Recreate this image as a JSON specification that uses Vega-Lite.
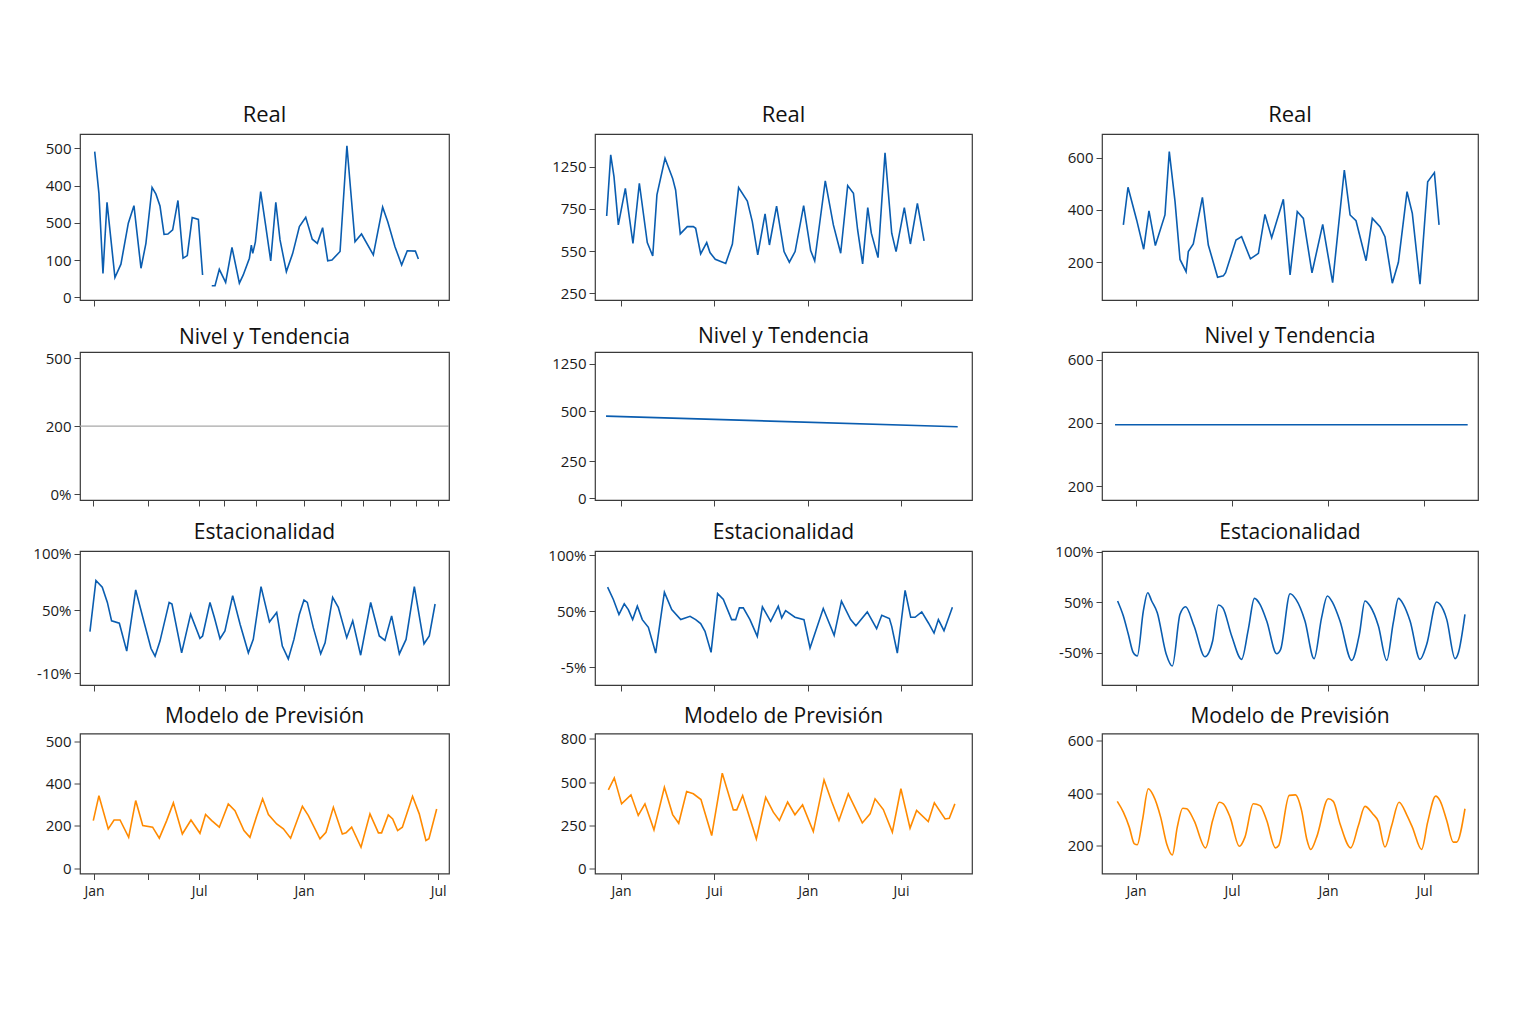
{
 "$schema": "https://vega.github.io/schema/vega-lite/v6.json",
 "background": "white",
 "padding": {"left": 29, "top": 103, "right": 20, "bottom": 20},
 "config": {
  "font": "Open Sans",
  "view": {"stroke": "#3a3a3a", "strokeWidth": 1.2},
  "axis": {"grid": false, "domain": false, "ticks": true, "tickColor": "#444", "tickSize": 6, "labelFont": "Open Sans", "labelFontSize": 15, "labelColor": "#1a1a1a", "labelPadding": 3, "labelOverlap": false, "labelFlush": false, "labelBound": false},
  "axisX": {"labelPadding": 5, "labelFontSize": 14},
  "title": {"font": "Open Sans", "fontSize": 21, "fontWeight": "normal", "color": "#111", "anchor": "middle", "frame": "group", "offset": 6}
 },
 "datasets": {
  "r1c1": [
   {"m":0.04,"v":391,"s":"a"},{"m":0.28,"v":279,"s":"a"},{"m":0.51,"v":64,"s":"a"},{"m":0.74,"v":255,"s":"a"},{"m":1.19,"v":53,"s":"a"},{"m":1.53,"v":89,"s":"a"},{"m":1.95,"v":199,"s":"a"},{"m":2.27,"v":246,"s":"a"},{"m":2.67,"v":78,"s":"a"},{"m":2.95,"v":145,"s":"a"},{"m":3.30,"v":295,"s":"a"},{"m":3.52,"v":277,"s":"a"},{"m":3.75,"v":245,"s":"a"},{"m":3.98,"v":169,"s":"a"},{"m":4.2,"v":170,"s":"a"},{"m":4.47,"v":181,"s":"a"},{"m":4.77,"v":260,"s":"a"},{"m":5.06,"v":105,"s":"a"},{"m":5.3,"v":112,"s":"a"},{"m":5.58,"v":214,"s":"a"},{"m":5.93,"v":209,"s":"a"},{"m":6.17,"v":60,"s":"a"},
   {"m":6.69,"v":31,"s":"b"},{"m":6.875,"v":31,"s":"b"},{"m":7.12,"v":75,"s":"b"},{"m":7.48,"v":40,"s":"b"},{"m":7.84,"v":134,"s":"b"},{"m":8.26,"v":38,"s":"b"},{"m":8.48,"v":60,"s":"b"},{"m":8.83,"v":105,"s":"b"},{"m":8.94,"v":140,"s":"b"},{"m":9.02,"v":118,"s":"b"},{"m":9.17,"v":149,"s":"b"},{"m":9.47,"v":284,"s":"b"},{"m":9.75,"v":194,"s":"b"},{"m":10.04,"v":98,"s":"b"},{"m":10.33,"v":255,"s":"b"},{"m":10.57,"v":154,"s":"b"},{"m":10.93,"v":69,"s":"b"},{"m":11.29,"v":118,"s":"b"},{"m":11.67,"v":190,"s":"b"},{"m":12.03,"v":215,"s":"b"},{"m":12.4,"v":156,"s":"b"},{"m":12.69,"v":145,"s":"b"},{"m":12.99,"v":187,"s":"b"},{"m":13.28,"v":98,"s":"b"},{"m":13.52,"v":100,"s":"b"},{"m":13.98,"v":123,"s":"b"},{"m":14.37,"v":407,"s":"b"},{"m":14.83,"v":149,"s":"b"},{"m":15.2,"v":170,"s":"b"},{"m":15.87,"v":114,"s":"b"},{"m":16.4,"v":242,"s":"b"},{"m":16.69,"v":203,"s":"b"},{"m":17.1,"v":136,"s":"b"},{"m":17.48,"v":87,"s":"b"},{"m":17.8,"v":125,"s":"b"},{"m":18.26,"v":124,"s":"b"},{"m":18.43,"v":103,"s":"b"}
  ],
  "r1c2": [
   {"m":-0.92,"v":708},{"m":-0.66,"v":1070},{"m":-0.45,"v":941},{"m":-0.17,"v":655},{"m":0.28,"v":872},{"m":0.77,"v":546},{"m":1.18,"v":902},{"m":1.69,"v":550},{"m":2.04,"v":471},{"m":2.31,"v":833},{"m":2.83,"v":1050},{"m":3.32,"v":931},{"m":3.51,"v":862},{"m":3.81,"v":602},{"m":4.26,"v":645},{"m":4.65,"v":645},{"m":4.8,"v":635},{"m":5.12,"v":483},{"m":5.51,"v":550},{"m":5.72,"v":491},{"m":6.06,"v":451},{"m":6.73,"v":426},{"m":7.16,"v":542},{"m":7.56,"v":876},{"m":8.12,"v":797},{"m":8.44,"v":675},{"m":8.79,"v":477},{"m":9.26,"v":720},{"m":9.54,"v":536},{"m":10.0,"v":767},{"m":10.48,"v":497},{"m":10.82,"v":434},{"m":11.19,"v":497},{"m":11.74,"v":769},{"m":12.19,"v":503},{"m":12.45,"v":442},{"m":12.77,"v":665},{"m":13.13,"v":916},{"m":13.65,"v":655},{"m":14.12,"v":487},{"m":14.57,"v":888},{"m":14.94,"v":843},{"m":15.21,"v":625},{"m":15.53,"v":424},{"m":15.86,"v":758},{"m":16.09,"v":606},{"m":16.52,"v":461},{"m":16.97,"v":1083},{"m":17.4,"v":606},{"m":17.68,"v":497},{"m":18.21,"v":758},{"m":18.6,"v":542},{"m":19.05,"v":783},{"m":19.48,"v":560}
  ],
  "r1c3": [
   {"m":-0.79,"v":343},{"m":-0.5,"v":487},{"m":0.04,"v":362},{"m":0.48,"v":250},{"m":0.81,"v":397},{"m":1.21,"v":264},{"m":1.81,"v":381},{"m":2.08,"v":623},{"m":2.44,"v":432},{"m":2.75,"v":211},{"m":3.13,"v":164},{"m":3.27,"v":241},{"m":3.58,"v":270},{"m":4.15,"v":448},{"m":4.52,"v":266},{"m":4.79,"v":209},{"m":5.1,"v":143},{"m":5.46,"v":148},{"m":5.6,"v":160},{"m":6.25,"v":285},{"m":6.6,"v":298},{"m":7.15,"v":213},{"m":7.65,"v":234},{"m":8.06,"v":383},{"m":8.48,"v":294},{"m":9.21,"v":441},{"m":9.63,"v":152},{"m":10.08,"v":394},{"m":10.46,"v":368},{"m":11.0,"v":160},{"m":11.67,"v":345},{"m":12.29,"v":122},{"m":13.02,"v":553},{"m":13.38,"v":381},{"m":13.75,"v":359},{"m":14.38,"v":206},{"m":14.77,"v":368},{"m":15.25,"v":336},{"m":15.56,"v":298},{"m":16.02,"v":120},{"m":16.4,"v":200},{"m":16.94,"v":470},{"m":17.27,"v":387},{"m":17.75,"v":116},{"m":18.23,"v":508},{"m":18.65,"v":543},{"m":18.94,"v":343}
  ],
  "r2c1": [{"m":-0.795,"v":200},{"m":20.17,"v":200}],
  "r2c2": [{"m":-0.96,"v":471},{"m":21.64,"v":410}],
  "r2c3": [{"m":-1.31,"v":194},{"m":20.73,"v":194}],
  "r3c1": [
   {"m":-0.23,"v":31},{"m":0.11,"v":76.2},{"m":0.47,"v":70.2},{"m":0.76,"v":56.8},{"m":1.0,"v":40.5},{"m":1.44,"v":38.4},{"m":1.86,"v":13.7},{"m":2.37,"v":67.9},{"m":2.85,"v":39},{"m":3.24,"v":16},{"m":3.47,"v":9.2},{"m":3.75,"v":22.6},{"m":4.27,"v":56.8},{"m":4.43,"v":55.4},{"m":4.98,"v":12.2},{"m":5.49,"v":46.4},{"m":6.02,"v":25},{"m":6.17,"v":27.1},{"m":6.59,"v":56.8},{"m":6.84,"v":43.5},{"m":7.16,"v":24.7},{"m":7.44,"v":31.5},{"m":7.88,"v":62.8},{"m":8.3,"v":37.5},{"m":8.77,"v":12.2},{"m":9.05,"v":24.1},{"m":9.49,"v":70.8},{"m":9.97,"v":39.6},{"m":10.38,"v":47.9},{"m":10.7,"v":18.2},{"m":11.04,"v":6.8},{"m":11.36,"v":24.1},{"m":11.67,"v":46.4},{"m":11.93,"v":58.9},{"m":12.12,"v":56.8},{"m":12.46,"v":34.5},{"m":12.88,"v":11.3},{"m":13.13,"v":21.1},{"m":13.56,"v":61.3},{"m":13.88,"v":52.4},{"m":14.36,"v":25.6},{"m":14.7,"v":40.5},{"m":15.15,"v":10.1},{"m":15.72,"v":56.8},{"m":16.21,"v":27.1},{"m":16.53,"v":23.2},{"m":16.91,"v":44.9},{"m":17.35,"v":11.3},{"m":17.73,"v":24.1},{"m":18.2,"v":70.8},{"m":18.75,"v":20.2},{"m":19.05,"v":27.1},{"m":19.38,"v":55.4}
  ],
  "r3c2": [
   {"m":-0.86,"v":71.6},{"m":-0.49,"v":60.5},{"m":-0.13,"v":47},{"m":0.21,"v":56.6},{"m":0.47,"v":51.5},{"m":0.75,"v":42.5},{"m":1.05,"v":54.5},{"m":1.37,"v":42.5},{"m":1.76,"v":35.6},{"m":2.23,"v":12.6},{"m":2.79,"v":67.1},{"m":3.26,"v":51.5},{"m":3.84,"v":42.5},{"m":4.44,"v":45.5},{"m":4.8,"v":42.5},{"m":5.12,"v":38.9},{"m":5.4,"v":32},{"m":5.79,"v":13.2},{"m":6.21,"v":65.9},{"m":6.58,"v":60.5},{"m":7.11,"v":42.5},{"m":7.37,"v":42.5},{"m":7.61,"v":53},{"m":7.86,"v":53},{"m":8.29,"v":42.5},{"m":8.76,"v":27.5},{"m":9.09,"v":53.9},{"m":9.62,"v":41},{"m":10.11,"v":54.5},{"m":10.33,"v":44},{"m":10.58,"v":50.6},{"m":11.18,"v":44.6},{"m":11.76,"v":42.5},{"m":12.15,"v":17.1},{"m":13.0,"v":52.4},{"m":13.7,"v":28.4},{"m":14.17,"v":59},{"m":14.76,"v":42.5},{"m":15.1,"v":37.1},{"m":15.83,"v":49.4},{"m":16.43,"v":34.4},{"m":16.76,"v":46.4},{"m":17.25,"v":43.4},{"m":17.4,"v":36.5},{"m":17.76,"v":12.6},{"m":18.26,"v":68.6},{"m":18.62,"v":44.6},{"m":18.9,"v":44.6},{"m":19.33,"v":49.4},{"m":19.76,"v":39.5},{"m":20.12,"v":30.5},{"m":20.4,"v":42.5},{"m":20.76,"v":32.6},{"m":21.3,"v":53.6}
  ],
  "r3c3": [
   {"m":-1.15,"v":51.2},{"m":-0.79,"v":36.3},{"m":-0.48,"v":18.2},{"m":-0.17,"v":0},{"m":0.08,"v":-3.3},{"m":0.46,"v":41.3},{"m":0.73,"v":59.4},{"m":0.98,"v":51.2},{"m":1.33,"v":39.6},{"m":1.88,"v":-1},{"m":2.27,"v":-13.2},{"m":2.75,"v":38},{"m":3.1,"v":45.5},{"m":3.63,"v":26.4},{"m":4.31,"v":-4},{"m":4.79,"v":11.6},{"m":5.15,"v":47.2},{"m":5.42,"v":44.6},{"m":5.98,"v":16.5},{"m":6.6,"v":-6.6},{"m":7.02,"v":23.1},{"m":7.4,"v":53.8},{"m":7.75,"v":47.9},{"m":8.17,"v":31.4},{"m":8.79,"v":-1},{"m":9.04,"v":3.3},{"m":9.63,"v":58.4},{"m":10.0,"v":52.8},{"m":10.56,"v":31.4},{"m":11.13,"v":-5.9},{"m":11.6,"v":34.7},{"m":11.96,"v":56.1},{"m":12.29,"v":49.5},{"m":12.75,"v":31.4},{"m":13.48,"v":-7.6},{"m":13.96,"v":18.2},{"m":14.31,"v":51.2},{"m":14.63,"v":46.2},{"m":15.15,"v":26.4},{"m":15.67,"v":-7.6},{"m":16.08,"v":29.7},{"m":16.4,"v":53.8},{"m":16.71,"v":47.9},{"m":17.13,"v":31.4},{"m":17.75,"v":-6.6},{"m":18.17,"v":8.3},{"m":18.79,"v":50.2},{"m":19.0,"v":47.9},{"m":19.42,"v":33},{"m":19.94,"v":-5.9},{"m":20.15,"v":0},{"m":20.56,"v":38}
  ],
  "r4c1": [
   {"m":-0.04,"v":225},{"m":0.28,"v":343},{"m":0.81,"v":186},{"m":1.14,"v":228},{"m":1.48,"v":228},{"m":1.97,"v":146},{"m":2.37,"v":320},{"m":2.77,"v":202},{"m":3.33,"v":194},{"m":3.71,"v":142},{"m":4.13,"v":225},{"m":4.51,"v":309},{"m":5.02,"v":162},{"m":5.51,"v":228},{"m":6.02,"v":165},{"m":6.34,"v":254},{"m":6.69,"v":225},{"m":7.12,"v":194},{"m":7.63,"v":304},{"m":8.01,"v":272},{"m":8.52,"v":178},{"m":8.86,"v":146},{"m":9.24,"v":246},{"m":9.58,"v":328},{"m":9.91,"v":254},{"m":10.38,"v":209},{"m":10.76,"v":186},{"m":11.17,"v":142},{"m":11.84,"v":293},{"m":12.18,"v":249},{"m":12.84,"v":139},{"m":13.18,"v":170},{"m":13.6,"v":288},{"m":14.11,"v":162},{"m":14.32,"v":167},{"m":14.64,"v":194},{"m":15.17,"v":99},{"m":15.68,"v":257},{"m":16.16,"v":167},{"m":16.34,"v":167},{"m":16.72,"v":252},{"m":16.97,"v":233},{"m":17.25,"v":178},{"m":17.52,"v":194},{"m":18.1,"v":340},{"m":18.48,"v":257},{"m":18.86,"v":131},{"m":19.03,"v":139},{"m":19.47,"v":280}
  ],
  "r4c2": [
   {"m":-0.81,"v":456},{"m":-0.43,"v":525},{"m":0.04,"v":375},{"m":0.64,"v":427},{"m":1.11,"v":308},{"m":1.54,"v":375},{"m":2.12,"v":225},{"m":2.79,"v":471},{"m":3.32,"v":313},{"m":3.71,"v":263},{"m":4.22,"v":446},{"m":4.65,"v":433},{"m":5.14,"v":400},{"m":5.83,"v":192},{"m":6.51,"v":552},{"m":7.22,"v":340},{"m":7.44,"v":340},{"m":7.82,"v":423},{"m":8.7,"v":173},{"m":9.3,"v":413},{"m":9.79,"v":327},{"m":10.18,"v":279},{"m":10.71,"v":385},{"m":11.18,"v":312},{"m":11.67,"v":369},{"m":12.36,"v":215},{"m":13.05,"v":513},{"m":13.54,"v":388},{"m":14.01,"v":279},{"m":14.61,"v":433},{"m":15.51,"v":265},{"m":16.01,"v":317},{"m":16.33,"v":404},{"m":16.86,"v":342},{"m":17.44,"v":212},{"m":17.99,"v":462},{"m":18.58,"v":235},{"m":19.0,"v":337},{"m":19.75,"v":273},{"m":20.14,"v":381},{"m":20.83,"v":288},{"m":21.1,"v":292},{"m":21.46,"v":375}
  ],
  "r4c3": [
   {"m":-1.17,"v":368},{"m":-0.79,"v":327},{"m":-0.42,"v":270},{"m":-0.1,"v":206},{"m":0.08,"v":203},{"m":0.4,"v":295},{"m":0.77,"v":416},{"m":1.08,"v":391},{"m":1.54,"v":308},{"m":1.92,"v":206},{"m":2.27,"v":164},{"m":2.58,"v":270},{"m":2.92,"v":342},{"m":3.17,"v":340},{"m":3.63,"v":295},{"m":4.35,"v":191},{"m":4.79,"v":295},{"m":5.21,"v":365},{"m":5.46,"v":359},{"m":5.88,"v":308},{"m":6.46,"v":197},{"m":6.81,"v":232},{"m":7.33,"v":359},{"m":7.75,"v":352},{"m":8.17,"v":295},{"m":8.71,"v":191},{"m":8.92,"v":200},{"m":9.58,"v":391},{"m":9.96,"v":393},{"m":10.35,"v":333},{"m":10.67,"v":225},{"m":10.92,"v":185},{"m":11.29,"v":232},{"m":12.02,"v":378},{"m":12.33,"v":368},{"m":12.75,"v":283},{"m":13.42,"v":191},{"m":13.9,"v":276},{"m":14.31,"v":349},{"m":14.79,"v":321},{"m":15.15,"v":291},{"m":15.56,"v":194},{"m":15.98,"v":276},{"m":16.44,"v":365},{"m":16.92,"v":317},{"m":17.27,"v":270},{"m":17.85,"v":185},{"m":18.23,"v":289},{"m":18.73,"v":388},{"m":19.0,"v":371},{"m":19.42,"v":295},{"m":19.83,"v":213},{"m":20.04,"v":213},{"m":20.56,"v":340}
  ]
 },
 "spacing": 17,
 "vconcat": [
  {
   "spacing": 78,
   "hconcat": [
    {
     "width": 369, "height": 166,
     "title": {"text": "Real", "fontSize": 22, "offset": 7},
     "data": {"name": "r1c1"},
     "mark": {"type": "line", "color": "#0a5db0", "strokeWidth": 1.6},
     "encoding": {
      "x": {"field": "m", "type": "quantitative", "scale": {"domain": [-0.795, 20.17], "nice": false, "zero": false}, "axis": {"title": null, "labels": false, "values": [0, 5.97, 7.44, 9.26, 11.93, 15.34, 19.55]}},
      "y": {"field": "v", "type": "quantitative", "scale": {"domain": [-7.2, 438.4], "nice": false, "zero": false}, "axis": {"title": null, "minExtent": 50, "maxExtent": 50, "values": [0, 100, 200, 300, 400], "labelExpr": "datum.value == 200 ? '500' : datum.value == 300 ? '400' : datum.value == 400 ? '500' : datum.label"}},
      "detail": {"field": "s", "type": "nominal"}
     }
    },
    {
     "width": 377, "height": 166,
     "title": {"text": "Real", "fontSize": 22, "offset": 7},
     "data": {"name": "r1c2"},
     "mark": {"type": "line", "color": "#0a5db0", "strokeWidth": 1.6},
     "encoding": {
      "x": {"field": "m", "type": "quantitative", "scale": {"domain": [-1.67, 22.56], "nice": false, "zero": false}, "axis": {"title": null, "labels": false, "values": [0, 6, 12, 18]}},
      "y": {"field": "v", "type": "quantitative", "scale": {"domain": [210, 1194], "nice": false, "zero": false}, "axis": {"title": null, "minExtent": 66, "maxExtent": 66, "values": [250, 500, 750, 1000], "labelExpr": "datum.value == 500 ? '550' : datum.value == 1000 ? '1250' : datum.label"}}
     }
    },
    {
     "width": 376, "height": 166,
     "title": {"text": "Real", "fontSize": 22, "offset": 7},
     "data": {"name": "r1c3"},
     "mark": {"type": "line", "color": "#0a5db0", "strokeWidth": 1.6},
     "encoding": {
      "x": {"field": "m", "type": "quantitative", "scale": {"domain": [-2.125, 21.375], "nice": false, "zero": false}, "axis": {"title": null, "labels": false, "values": [0, 6, 12, 18]}},
      "y": {"field": "v", "type": "quantitative", "scale": {"domain": [55.8, 690.6], "nice": false, "zero": false}, "axis": {"title": null, "minExtent": 50, "maxExtent": 50, "values": [200, 400, 600]}}
     }
    }
   ]
  },
  {
   "spacing": 13,
   "vconcat": [
    {
     "spacing": 78,
     "hconcat": [
      {
       "width": 369, "height": 148,
       "title": {"text": "Nivel y Tendencia", "offset": 3.5},
       "data": {"name": "r2c1"},
       "mark": {"type": "line", "color": "#a8a8a8", "strokeWidth": 1.4},
       "encoding": {
        "x": {"field": "m", "type": "quantitative", "scale": {"domain": [-0.795, 20.17], "nice": false, "zero": false}, "axis": {"title": null, "labels": false, "values": [-0.06, 3.07, 5.97, 7.39, 9.2, 11.93, 14.03, 15.28, 16.82, 18.3, 19.55]}},
        "y": {"field": "v", "type": "quantitative", "scale": {"domain": [-17.6, 418.4], "nice": false, "zero": false}, "axis": {"title": null, "minExtent": 50, "maxExtent": 50, "values": [0, 200, 400], "labelExpr": "datum.value == 0 ? '0%' : datum.value == 400 ? '500' : datum.label"}}
       }
      },
      {
       "width": 377, "height": 148,
       "title": {"text": "Nivel y Tendencia", "offset": 4.7},
       "data": {"name": "r2c2"},
       "mark": {"type": "line", "color": "#0a5db0", "strokeWidth": 1.6},
       "encoding": {
        "x": {"field": "m", "type": "quantitative", "scale": {"domain": [-1.67, 22.56], "nice": false, "zero": false}, "axis": {"title": null, "labels": false, "values": [0, 6, 12, 18]}},
        "y": {"field": "v", "type": "quantitative", "scale": {"domain": [-10.3, 839], "nice": false, "zero": false}, "axis": {"title": null, "minExtent": 63, "maxExtent": 63, "values": [0, 213, 500, 772], "labelExpr": "datum.value == 213 ? '250' : datum.value == 772 ? '1250' : datum.label"}}
       }
      },
      {
       "width": 376, "height": 148,
       "title": {"text": "Nivel y Tendencia", "offset": 4.7},
       "data": {"name": "r2c3"},
       "mark": {"type": "line", "color": "#0a5db0", "strokeWidth": 1.6},
       "encoding": {
        "x": {"field": "m", "type": "quantitative", "scale": {"domain": [-2.125, 21.375], "nice": false, "zero": false}, "axis": {"title": null, "labels": false, "values": [0, 6, 12, 18]}},
        "y": {"field": "v", "type": "quantitative", "scale": {"domain": [-43.7, 424], "nice": false, "zero": false}, "axis": {"title": null, "minExtent": 50, "maxExtent": 50, "values": [0, 200, 400], "labelExpr": "datum.value == 400 ? '600' : '200'"}}
       }
      }
     ]
    },
    {
     "spacing": 11.5,
     "vconcat": [
      {
       "spacing": 78,
       "hconcat": [
        {
         "width": 369, "height": 134,
         "title": {"text": "Estacionalidad", "offset": 3.8},
         "data": {"name": "r3c1"},
         "mark": {"type": "line", "color": "#0a5db0", "strokeWidth": 1.6},
         "encoding": {
          "x": {"field": "m", "type": "quantitative", "scale": {"domain": [-0.795, 20.17], "nice": false, "zero": false}, "axis": {"title": null, "labels": false, "values": [0, 5.97, 7.44, 9.26, 11.93, 15.34, 19.5]}},
          "y": {"field": "v", "type": "quantitative", "scale": {"domain": [-16.25, 102.3], "nice": false, "zero": false}, "axis": {"title": null, "minExtent": 50, "maxExtent": 50, "values": [100, 50, -6], "labelExpr": "datum.value == 100 ? '100%' : datum.value == 50 ? '50%' : '-10%'"}}
         }
        },
        {
         "width": 377, "height": 134,
         "title": {"text": "Estacionalidad", "offset": 5.5},
         "data": {"name": "r3c2"},
         "mark": {"type": "line", "color": "#0a5db0", "strokeWidth": 1.6},
         "encoding": {
          "x": {"field": "m", "type": "quantitative", "scale": {"domain": [-1.67, 22.56], "nice": false, "zero": false}, "axis": {"title": null, "labels": false, "values": [0, 6, 12, 18]}},
          "y": {"field": "v", "type": "quantitative", "scale": {"domain": [-16, 103.9], "nice": false, "zero": false}, "axis": {"title": null, "minExtent": 66, "maxExtent": 66, "values": [100, 50, 0], "labelExpr": "datum.value == 100 ? '100%' : datum.value == 50 ? '50%' : '-5%'"}}
         }
        },
        {
         "width": 376, "height": 134,
         "title": {"text": "Estacionalidad", "offset": 1.9},
         "data": {"name": "r3c3"},
         "mark": {"type": "line", "color": "#0a5db0", "strokeWidth": 1.6, "interpolate": "monotone"},
         "encoding": {
          "x": {"field": "m", "type": "quantitative", "scale": {"domain": [-2.125, 21.375], "nice": false, "zero": false}, "axis": {"title": null, "labels": false, "values": [0, 6, 12, 18]}},
          "y": {"field": "v", "type": "quantitative", "scale": {"domain": [-32, 100.7], "nice": false, "zero": false}, "axis": {"title": null, "minExtent": 50, "maxExtent": 50, "values": [100, 50, 0], "labelExpr": "datum.value == 100 ? '100%' : datum.value == 50 ? '50%' : '-50%'"}}
         }
        }
       ]
      },
      {
       "spacing": 78,
       "hconcat": [
        {
         "width": 369, "height": 140,
         "title": {"text": "Modelo de Previsión", "offset": 7},
         "data": {"name": "r4c1"},
         "mark": {"type": "line", "color": "#ff8a00", "strokeWidth": 1.6},
         "encoding": {
          "x": {"field": "m", "type": "quantitative", "scale": {"domain": [-0.795, 20.17], "nice": false, "zero": false}, "axis": {"title": null, "values": [0, 3.07, 5.97, 9.26, 11.93, 15.34, 19.55], "labelExpr": "datum.value == 0 ? 'Jan' : datum.value == 5.97 ? 'Jul' : datum.value == 11.93 ? 'Jan' : datum.value == 19.55 ? 'Jul' : ''"}},
          "y": {"field": "v", "type": "quantitative", "scale": {"domain": [-25, 636.9], "nice": false, "zero": false}, "axis": {"title": null, "minExtent": 50, "maxExtent": 50, "values": [0, 200, 400, 600], "labelExpr": "datum.value == 600 ? '500' : datum.label"}}
         }
        },
        {
         "width": 377, "height": 140,
         "title": {"text": "Modelo de Previsión", "offset": 4.9},
         "data": {"name": "r4c2"},
         "mark": {"type": "line", "color": "#ff8a00", "strokeWidth": 1.6},
         "encoding": {
          "x": {"field": "m", "type": "quantitative", "scale": {"domain": [-1.67, 22.56], "nice": false, "zero": false}, "axis": {"title": null, "values": [0, 6, 12, 18], "labelExpr": "datum.value == 0 || datum.value == 12 ? 'Jan' : 'Jui'"}},
          "y": {"field": "v", "type": "quantitative", "scale": {"domain": [-27, 781], "nice": false, "zero": false}, "axis": {"title": null, "minExtent": 66, "maxExtent": 66, "values": [0, 250, 500, 750], "labelExpr": "datum.value == 750 ? '800' : datum.label"}}
         }
        },
        {
         "width": 376, "height": 140,
         "title": {"text": "Modelo de Previsión", "offset": 6.5},
         "data": {"name": "r4c3"},
         "mark": {"type": "line", "color": "#ff8a00", "strokeWidth": 1.6, "interpolate": "monotone"},
         "encoding": {
          "x": {"field": "m", "type": "quantitative", "scale": {"domain": [-2.125, 21.375], "nice": false, "zero": false}, "axis": {"title": null, "values": [0, 6, 12, 18], "labelExpr": "datum.value == 0 || datum.value == 12 ? 'Jan' : 'Jul'"}},
          "y": {"field": "v", "type": "quantitative", "scale": {"domain": [93.3, 626.7], "nice": false, "zero": false}, "axis": {"title": null, "minExtent": 50, "maxExtent": 50, "values": [200, 400, 600]}}
         }
        }
       ]
      }
     ]
    }
   ]
  }
 ]
}
